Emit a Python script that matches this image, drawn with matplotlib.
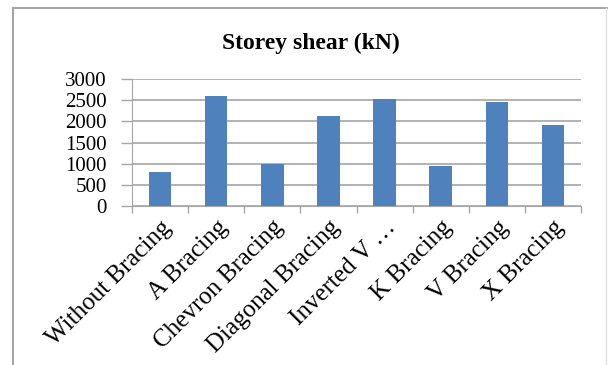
import numpy as np
import matplotlib.pyplot as plt
from matplotlib.lines import Line2D

categories = ['Without Bracing', 'A Bracing', 'Chevron Bracing', 'Diagonal Bracing',
              'Inverted V \u2026', 'K Bracing', 'V Bracing', 'X Bracing']
shear = [810, 2595, 1000, 2125, 2535, 945, 2470, 1920]
yticks = [0, 500, 1000, 1500, 2000, 2500, 3000]

plt.rcParams['font.family'] = 'Liberation Serif'

fig = plt.figure(figsize=(6.08, 3.65), dpi=100)
ax = fig.add_axes([132/608, 1-206.5/365, (581-132)/608, (206.5-79)/365])

x = np.arange(len(categories))
ax.bar(x, shear, width=0.4, color='#4F81BD', zorder=3)

ax.set_xlim(-0.5, len(categories)-0.5)
ax.set_ylim(0, 3000)
ax.set_yticks(yticks)
ax.set_yticklabels([str(v) for v in yticks], fontsize=15)
ax.yaxis.grid(True, color='#A6A6A6', linewidth=1.2, zorder=0)
ax.tick_params(axis='y', length=8, width=1, color='#A6A6A6', pad=10)

# category labels, ticks between categories
ax.set_xticks(x)
ax.set_xticklabels(categories, rotation=45, ha='right', rotation_mode='anchor',
                   fontsize=18)
ax.tick_params(axis='x', which='major', length=0, pad=7)
ax.set_xticks(np.arange(-0.5, len(categories), 1.0), minor=True)
ax.tick_params(axis='x', which='minor', length=5, width=1, color='#A6A6A6')

for s in ['top', 'right']:
    ax.spines[s].set_visible(False)
ax.spines['left'].set_color('#A6A6A6')
ax.spines['bottom'].set_color('#A6A6A6')

fig.text(311/608, 1-43/365, 'Storey shear (kN)', fontsize=17, fontweight='bold',
         ha='center', va='center')

# outer chart frame (cut off on the right/bottom)
fig.add_artist(Line2D([12.5/608, 12.5/608], [0, 1-7.5/365], color='#A6A6A6', lw=1.5))
fig.add_artist(Line2D([12.5/608, 1], [1-7.5/365, 1-7.5/365], color='#A6A6A6', lw=1.5))
fig.add_artist(Line2D([606/608, 606/608], [0, 1-7.5/365], color='#E0E0E0', lw=1))

fig.savefig('out.png', dpi=100)
